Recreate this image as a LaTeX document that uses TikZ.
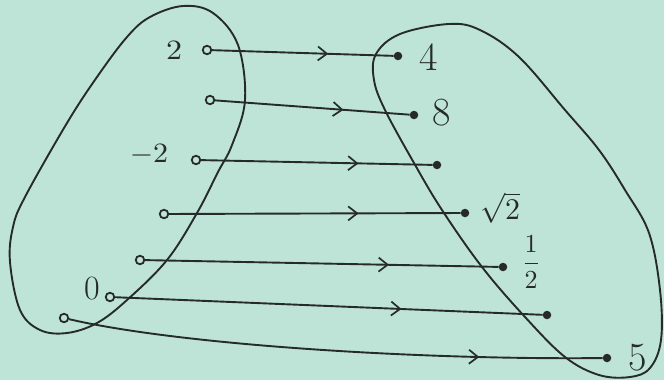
\documentclass[tikz,border=0pt]{standalone}
\usetikzlibrary{arrows.meta,decorations.markings}
\definecolor{paper}{RGB}{190,228,216}
\definecolor{ink}{RGB}{38,42,42}
\begin{document}
\begin{tikzpicture}[x=1pt,y=-1pt,
  inkline/.style={draw=ink,line width=1.9pt},
  ldot/.style={circle,draw=ink,fill=paper,line width=1.8pt,inner sep=0pt,minimum size=8.5pt},
  rdot/.style={circle,fill=ink,inner sep=0pt,minimum size=8.5pt},
  lab/.style={text=ink,inner sep=0pt},
  midarrow/.style={postaction={decorate},decoration={markings,mark=at position #1 with {\arrow{Straight Barb[length=9pt,width=14pt,line width=1.7pt]}}}}
]
\fill[paper] (0,0) rectangle (664,380);
\useasboundingbox (0,0) rectangle (664,380);

% ovals
\draw[inkline] plot[smooth cycle,tension=0.6] coordinates {
  (183,6) (213,13) (238,45) (245,100) (232,145) (218,172) (197,213)
  (167,260) (127,300) (97,323) (67,333) (40,330) (20,310) (10,262)
  (13,227) (25,197) (67,123) (97,77) (127,37) (150,17)};
\draw[inkline] plot[smooth cycle,tension=0.6] coordinates {
  (376,54) (400,34) (449,24) (480,30) (519,57) (565,110) (599,150)
  (625,190) (649,233) (660,290) (661,340) (650,368) (630,377)
  (599,375) (565,357) (525,317) (482,267) (442,210) (414,163)
  (385,110) (374,80)};

% domain points
\node[ldot] (a1) at (207,50) {};
\node[ldot] (a2) at (210,100) {};
\node[ldot] (a3) at (196,160) {};
\node[ldot] (a4) at (164,214) {};
\node[ldot] (a5) at (140,260) {};
\node[ldot] (a6) at (110,297) {};
\node[ldot] (a7) at (64,318) {};

% codomain points
\node[rdot] (b1) at (398,56) {};
\node[rdot] (b2) at (414,115) {};
\node[rdot] (b3) at (437,165) {};
\node[rdot] (b4) at (465,213) {};
\node[rdot] (b5) at (503,267) {};
\node[rdot] (b6) at (547,315) {};
\node[rdot] (b7) at (607,358) {};

% arrows
\draw[inkline,midarrow=0.64] (a1) -- (b1);
\draw[inkline,midarrow=0.66] (a2) -- (b2);
\draw[inkline,midarrow=0.68] (a3) -- (b3);
\draw[inkline,midarrow=0.65] (a4) -- (b4);
\draw[inkline,midarrow=0.69] (a5) -- (b5);
\draw[inkline,midarrow=0.67] (a6) -- (b6);
\draw[inkline,midarrow=0.77] (a7) .. controls (180,345) and (420,360) .. (b7);

% labels
\node[lab] (t2) at (174,50) {\scalebox{3.2}[2.8]{2}};
\node[lab] (tm2) at (149,155) {\scalebox{3}[2.8]{$-2$}};
\node[lab,font=\fontsize{34}{36}\selectfont] (t0) at (92,289) {0};
\node[lab,font=\fontsize{40}{42}\selectfont] (t4) at (429,57) {4};
\node[lab,font=\fontsize{40}{42}\selectfont] (t8) at (442,113) {8};
\node[lab] (ts) at (500,208) {\scalebox{3}{$\sqrt{2}$}};
\node[lab] (th) at (531,262) {\scalebox{2.6}{$\displaystyle\frac{1}{2}$}};
\node[lab,font=\fontsize{40}{42}\selectfont] (t5) at (638,358) {5};
\end{tikzpicture}
\end{document}
